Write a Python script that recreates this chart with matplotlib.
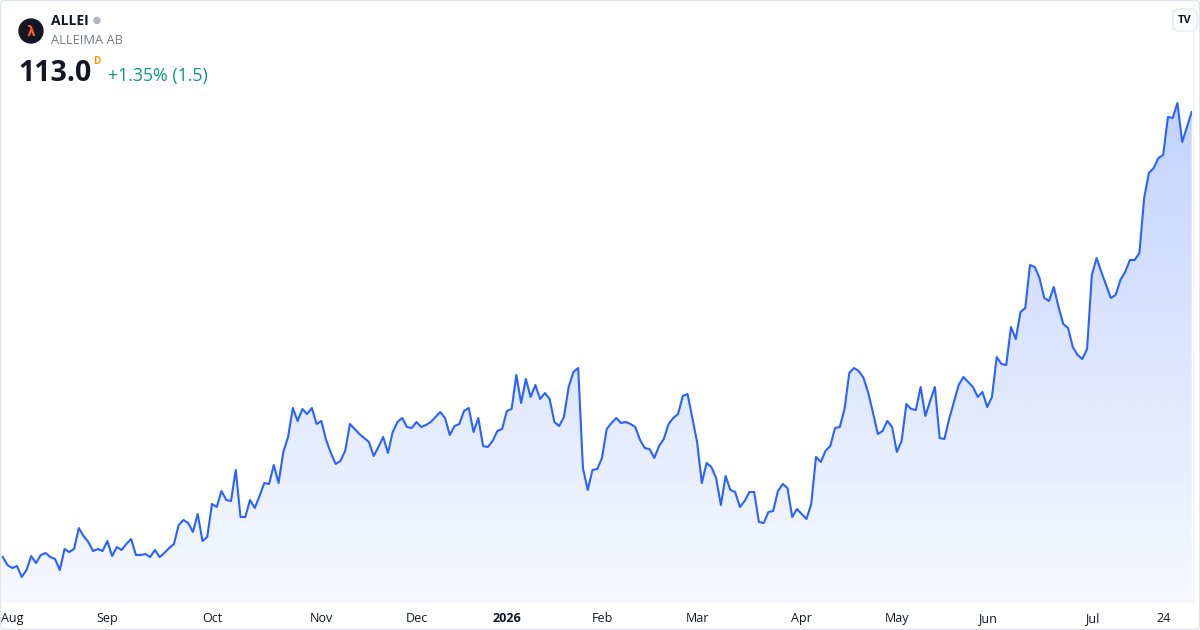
import numpy as np
import matplotlib.pyplot as plt
from matplotlib.patches import Circle, FancyBboxPatch

plt.rcParams['font.family'] = ['Open Sans', 'DejaVu Sans']

# daily close, Aug 2025 -> Jul 2026
close = [
    68.5, 67.7, 67.4, 67.6, 66.5, 67.2, 68.6, 67.9, 68.7, 68.9,
    68.5, 68.3, 67.2, 69.3, 69.0, 69.3, 71.4, 70.6, 70.0, 69.1,
    69.3, 69.1, 70.1, 68.6, 69.5, 69.2, 69.8, 70.3, 68.7, 68.7,
    68.8, 68.5, 69.2, 68.5, 68.9, 69.4, 69.8, 71.7, 72.2, 71.9,
    71.0, 72.8, 70.1, 70.5, 73.8, 73.5, 75.1, 74.2, 74.1, 77.2,
    72.5, 72.5, 74.2, 73.4, 74.6, 75.9, 75.8, 77.7, 75.9, 79.0,
    80.5, 83.4, 82.1, 83.3, 82.8, 83.4, 81.8, 82.1, 80.2, 78.9,
    77.8, 78.1, 79.1, 81.8, 81.3, 80.8, 80.4, 80.0, 78.6, 79.5,
    80.5, 78.9, 81.0, 82.0, 82.4, 81.5, 81.4, 82.0, 81.5, 81.7,
    82.0, 82.5, 83.0, 82.4, 80.7, 81.6, 81.8, 83.1, 83.4, 81.0,
    82.4, 79.6, 79.5, 80.1, 81.1, 81.3, 83.1, 83.3, 86.7, 83.9,
    86.3, 84.5, 85.7, 84.3, 84.9, 84.3, 82.0, 81.6, 82.5, 85.5,
    87.0, 87.4, 77.4, 75.2, 77.2, 77.3, 78.4, 81.3, 81.9, 82.4,
    81.9, 82.0, 81.8, 81.5, 80.2, 79.4, 79.3, 78.4, 79.6, 80.3,
    81.8, 82.4, 82.8, 84.6, 84.8, 82.4, 80.0, 75.9, 77.9, 77.5,
    76.4, 73.7, 76.6, 75.2, 75.0, 73.5, 74.1, 75.0, 75.0, 72.0,
    71.9, 73.0, 73.1, 75.1, 75.8, 75.4, 72.5, 73.3, 72.8, 72.3,
    73.8, 78.5, 78.0, 79.1, 79.6, 81.4, 81.5, 83.3, 86.9, 87.4,
    87.1, 86.4, 84.9, 82.9, 80.8, 81.1, 82.1, 81.5, 79.0, 80.1,
    83.8, 83.3, 83.2, 85.5, 82.6, 84.1, 85.5, 80.4, 80.3, 82.3,
    84.0, 85.7, 86.5, 86.0, 85.5, 84.5, 85.0, 83.5, 84.5, 88.5,
    87.8, 87.7, 91.5, 90.3, 93.0, 93.4, 97.7, 97.5, 96.4, 94.4,
    94.1, 95.5, 93.5, 91.8, 91.4, 89.5, 88.7, 88.3, 89.3, 96.7,
    98.4, 97.0, 95.7, 94.4, 94.7, 96.2, 97.0, 98.2, 98.2, 98.9,
    104.4, 106.9, 107.4, 108.4, 108.7, 112.5, 112.4, 113.9, 110.0, 111.5,
    113.0,
]
tick_idx = [2, 22, 44, 67, 87, 106, 126, 146, 168, 188, 207, 229, 244]
tick_lbl = ["Aug", "Sep", "Oct", "Nov", "Dec", "2026", "Feb", "Mar",
            "Apr", "May", "Jun", "Jul", "24"]

symbol = "ALLEI"
name = "ALLEIMA AB"
last_txt = "113.0"
change_txt = "+1.35% (1.5)"

line_col = "#2962ff"
W, H = 1200, 630

fig = plt.figure(figsize=(12, 6.3), dpi=100)
fig.patch.set_facecolor("white")

ax = fig.add_axes([0, 1 - 603 / H, 1192 / W, 603 / H])
x = np.arange(len(close))
ymin, ymax = 63.9, 124.2
ax.set_xlim(-0.57, 250.06)
ax.set_ylim(ymin, ymax)

# gradient area under the line
poly = ax.fill_between(x, close, ymin, color="none", lw=0)
n = 256
grad = np.zeros((n, 1, 4))
grad[:, 0, 0] = 41 / 255
grad[:, 0, 1] = 98 / 255
grad[:, 0, 2] = 255 / 255
grad[:, 0, 3] = np.linspace(0.28, 0.04, n)
img = ax.imshow(grad, extent=[-0.57, 250.06, ymin, max(close)],
                aspect="auto", origin="upper", zorder=1)
img.set_clip_path(poly.get_paths()[0], transform=ax.transData)

ax.plot(x, close, color=line_col, lw=1.5, zorder=3, solid_joinstyle="round")

ax.set_yticks([])
ax.set_xticks(tick_idx)
ax.set_xticklabels(tick_lbl, fontsize=9, color="#131722")
ax.tick_params(axis="x", length=0, pad=6.5)
for lab in ax.get_xticklabels():
    if lab.get_text() == "2026":
        lab.set_fontweight("bold")
for s in ax.spines.values():
    s.set_visible(False)
ax.set_facecolor("none")

# overlay in pixel coordinates for header & frame
ov = fig.add_axes([0, 0, 1, 1], zorder=10)
ov.set_xlim(0, W)
ov.set_ylim(H, 0)
ov.axis("off")
ov.patch.set_alpha(0)

ov.add_patch(FancyBboxPatch((0.5, 0.5), W - 1, H - 1,
                            boxstyle="round,pad=0,rounding_size=4",
                            fc="none", ec="#e0e3eb", lw=1))
ov.plot([1193, 1193], [0, 604], color="#f0f3fa", lw=1)

ov.add_patch(Circle((31, 31), 12, color="#131722"))
ov.text(31, 31.5, "λ", color="#ff5a36", fontsize=10, fontweight="bold",
        ha="center", va="center", family=["DejaVu Sans"])
ov.text(51, 21, symbol, fontsize=10, fontweight="bold", color="#131722",
        va="center", ha="left")
ov.add_patch(Circle((97, 20.5), 3, color="#b2b5be"))
ov.text(51, 41, name, fontsize=9.3, color="#787b86", va="center", ha="left")
ov.text(18, 81, last_txt, fontsize=20.5, fontweight="bold", color="#131722",
        va="baseline", ha="left")
ov.text(93, 61, "D", fontsize=7, fontweight="bold", color="#ff9800",
        va="center", ha="left")
ov.text(108, 81, change_txt, fontsize=12.8, color="#089981",
        va="baseline", ha="left")

# TradingView badge
ov.add_patch(FancyBboxPatch((1173, 9), 24, 22,
                            boxstyle="round,pad=0,rounding_size=6",
                            fc="white", ec="#e0e3eb", lw=0.8))
ov.text(1185, 20.5, "TV", fontsize=8, fontweight="bold", color="#131722",
        ha="center", va="center")

fig.savefig("out.png", dpi=100)
